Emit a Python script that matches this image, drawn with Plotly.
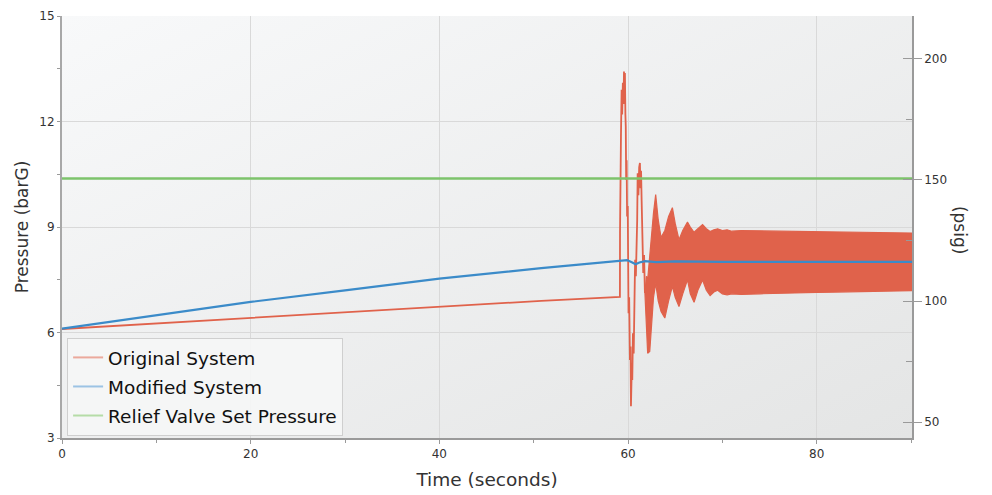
import base64
import plotly.graph_objects as go

# ---------------- data ----------------
# Original System: ramp, then surge spike (pressures in barG, time in s)
orig_t = [0, 10, 20, 29.5, 40, 50.8, 59.14, 59.15, 59.25, 59.32, 59.38, 59.45, 59.52,
          59.57, 59.62, 59.67, 59.72, 59.76, 59.8, 59.85, 59.9, 59.97, 60.05, 60.12,
          60.2, 60.27, 60.31, 60.38, 60.45, 60.52, 60.6, 60.68, 60.75, 60.83, 60.91,
          60.97, 61.02, 61.1, 61.18, 61.26, 61.32, 61.38, 61.44, 61.52, 61.61, 61.7,
          61.79]
orig_p = [6.10, 6.26, 6.41, 6.57, 6.74, 6.90, 7.01, 8.83, 11.57, 12.9, 12.2, 13.1, 12.5,
          13.42, 12.8, 13.38, 12.2, 11.86, 10.34, 10.9, 9.3, 9.6, 6.55, 7.0,
          5.22, 5.6, 3.90, 4.8, 4.65, 5.98, 5.4, 7.2, 8.07, 7.6, 8.45,
          9.2, 10.53, 9.9, 10.7, 10.82, 10.1, 10.6, 9.77, 8.5, 7.69, 8.2,
          7.12]
# Original System: fast oscillation band after the surge (upper / lower envelope)
band_t = [61.79, 61.95, 62.08, 62.3, 62.5, 62.7, 62.93, 63.2, 63.5, 63.9, 64.3, 64.7,
          65.0, 65.4, 65.8, 66.3, 66.6, 67.0, 67.4, 67.9, 68.3, 68.7, 69.1, 69.5, 70.0,
          70.5, 71, 72, 74, 76, 78, 80, 82, 84, 86, 88, 90.1]
band_hi = [7.12, 7.6, 7.5, 8.2, 8.9, 9.4, 9.92, 9.2, 8.7, 8.9, 9.3, 9.55,
           9.1, 8.64, 8.9, 9.14, 9.0, 8.85, 8.95, 9.07, 8.95, 8.87, 8.92, 8.95, 8.9,
           8.92, 8.88, 8.9, 8.89, 8.88, 8.87, 8.87, 8.86, 8.86, 8.85, 8.84, 8.83]
band_lo = [7.12, 6.2, 5.41, 5.46, 6.3, 7.0, 7.4, 6.9, 6.6, 6.41, 6.9, 7.31,
           7.0, 6.74, 7.1, 7.50, 7.1, 6.86, 7.2, 7.49, 7.2, 7.05, 7.15, 7.2, 7.1,
           7.07, 7.1, 7.08, 7.1, 7.12, 7.13, 7.14, 7.15, 7.16, 7.17, 7.18, 7.19]

# Modified System
mod_t = [0, 10, 20, 30, 40, 50.8, 59.3, 59.9, 60.4, 60.8, 61.2, 61.8, 63, 65, 70, 80, 90.1]
mod_p = [6.11, 6.50, 6.87, 7.20, 7.53, 7.83, 8.04, 8.06, 8.0, 7.94, 7.99, 8.03, 8.0,
         8.02, 8.01, 8.01, 8.01]

# Relief valve set pressure
relief_t = [0, 90.1]
relief_p = [10.38, 10.38]

series_names = ["Original System", "Modified System", "Relief Valve Set Pressure"]
x_range = [0, 90.1]
y_range = [3, 15]
BAR_TO_PSI = 14.5038

# ---------------- styling ----------------
RED = "#e0624b"
BLUE = "#3b8bc9"
GREEN = "#7dc36b"
LEG_COLORS = ["#eba99c", "#9cc3e4", "#b5dca7"]
AXIS = "#9a9a9a"
GRID = "#d9d9d9"
FONT = "DejaVu Sans"

svg = ('<svg xmlns="http://www.w3.org/2000/svg" width="200" height="100" '
       'preserveAspectRatio="none"><defs><linearGradient id="g" x1="0" y1="0" x2="1" y2="1">'
       '<stop offset="0" stop-color="#f8f9fa"/><stop offset="1" stop-color="#e4e5e5"/>'
       '</linearGradient></defs><rect width="200" height="100" fill="url(#g)"/></svg>')
bg_src = "data:image/svg+xml;base64," + base64.b64encode(svg.encode()).decode()

fig = go.Figure()

# original system line
fig.add_trace(go.Scatter(x=orig_t, y=orig_p, mode="lines", line=dict(color=RED, width=1.8),
                         showlegend=False, hoverinfo="skip"))
# oscillation band
fig.add_trace(go.Scatter(x=band_t, y=band_lo, mode="lines", line=dict(color=RED, width=1.2),
                         showlegend=False, hoverinfo="skip"))
fig.add_trace(go.Scatter(x=band_t, y=band_hi, mode="lines", line=dict(color=RED, width=1.2),
                         fill="tonexty", fillcolor=RED, showlegend=False, hoverinfo="skip"))
# modified
fig.add_trace(go.Scatter(x=mod_t, y=mod_p, mode="lines", line=dict(color=BLUE, width=2.2),
                         showlegend=False, hoverinfo="skip"))
# relief
fig.add_trace(go.Scatter(x=relief_t, y=relief_p, mode="lines", line=dict(color=GREEN, width=2.5),
                         showlegend=False, hoverinfo="skip"))

# legend entries
for i, (nm, c) in enumerate(zip(series_names, LEG_COLORS)):
    fig.add_trace(go.Scatter(x=[None], y=[None], mode="lines", name=nm,
                             line=dict(color=c, width=2), legendgroup=f"g{i}"))

# dummies for secondary axes
fig.add_trace(go.Scatter(x=[None], y=[None], yaxis="y2", showlegend=False, hoverinfo="skip"))
fig.add_trace(go.Scatter(x=[None], y=[None], yaxis="y3", showlegend=False, hoverinfo="skip"))

psi_range = [y_range[0] * BAR_TO_PSI, y_range[1] * BAR_TO_PSI]

fig.update_layout(
    width=984, height=487,
    margin=dict(l=54, r=80, t=8, b=57),
    paper_bgcolor="white", plot_bgcolor="#eeeff0",
    font=dict(family=FONT, color="#333333"),
    images=[dict(source=bg_src, xref="paper", yref="paper", x=0, y=1, sizex=1, sizey=1,
                 xanchor="left", yanchor="top", sizing="stretch", layer="below")],
    xaxis=dict(range=x_range, tick0=0, dtick=20, showgrid=True, gridcolor=GRID, gridwidth=1,
               showline=True, linecolor=AXIS, linewidth=1.5, zeroline=False,
               ticks="outside", ticklen=4, tickcolor=AXIS,
               minor=dict(dtick=10, ticks="outside", ticklen=3, tickcolor=AXIS, showgrid=False),
               tickfont=dict(size=12, color="#333333"),
               title=dict(text="Time (seconds)", font=dict(size=18.5, color="#333333"), standoff=13),
               automargin=False),
    yaxis=dict(range=y_range, tick0=3, dtick=3, showgrid=True, gridcolor=GRID, gridwidth=1,
               showline=True, linecolor="#a8a8a8", linewidth=2, zeroline=False,
               ticks="outside", ticklen=3, tickcolor=AXIS,
               minor=dict(dtick=1.5, ticks="outside", ticklen=3, tickcolor=AXIS, showgrid=False),
               tickfont=dict(size=12, color="#333333"),
               title=dict(text="Pressure (barG)", font=dict(size=17, color="#333333"), standoff=6),
               automargin=False),
    yaxis2=dict(range=psi_range, overlaying="y", side="right", anchor="x",
                tick0=0, dtick=50, showgrid=False, zeroline=False,
                showline=True, linecolor=AXIS, linewidth=1.5,
                ticks="outside", ticklen=8, tickcolor=AXIS,
                minor=dict(dtick=25, ticks="inside", ticklen=6, tickcolor=AXIS, showgrid=False),
                tickfont=dict(size=12, color="#333333"), automargin=False),
    yaxis3=dict(range=psi_range, overlaying="y", side="right", anchor="x",
                tick0=0, dtick=50, showgrid=False, zeroline=False, showline=False,
                ticks="inside", ticklen=9, tickcolor=AXIS, showticklabels=False,
                automargin=False),
    legend=dict(x=0.006, y=0.005, xanchor="left", yanchor="bottom",
                bgcolor="rgba(245,246,246,0.92)", bordercolor="#cfcfcf", borderwidth=1,
                font=dict(size=18.5, color="#111111", family=FONT),
                tracegroupgap=2, itemwidth=30),
    annotations=[dict(text="(psig)", xref="paper", yref="paper", x=1.0565, y=0.493,
                      xanchor="center", yanchor="middle", textangle=90, showarrow=False,
                      font=dict(size=17, color="#333333", family=FONT))],
    showlegend=True,
)

fig.write_html("out.html")
